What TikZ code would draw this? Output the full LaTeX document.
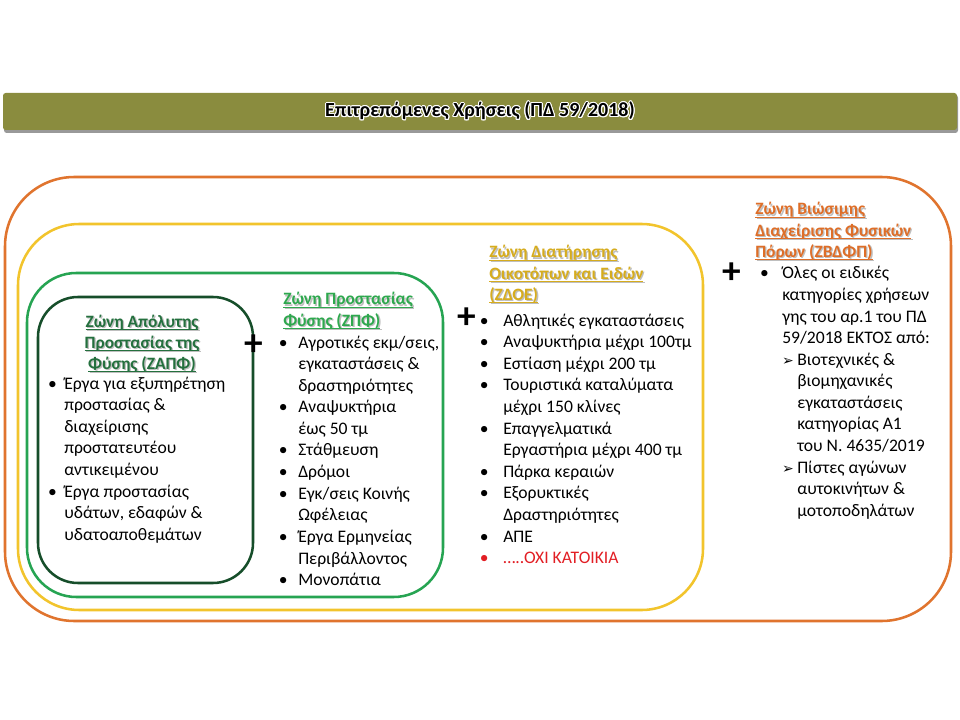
\documentclass[tikz,border=0pt]{standalone}
\usepackage{fontspec}
\setmainfont{Carlito}
\newfontfamily\djv{DejaVu Sans}
\usepackage{contour}
\contourlength{0.8pt}

\definecolor{barolive}{RGB}{138,140,62}
\definecolor{zorange}{RGB}{224,116,46}
\definecolor{zyellow}{RGB}{242,196,44}
\definecolor{zgreen}{RGB}{38,164,82}
\definecolor{zdark}{RGB}{22,78,42}
\definecolor{tdark}{RGB}{36,112,62}
\definecolor{tgreen}{RGB}{46,168,78}
\definecolor{tgold}{RGB}{214,172,30}
\definecolor{torange}{RGB}{222,110,40}
\definecolor{zred}{RGB}{226,30,36}

\newsavebox\ulbox
\newcommand\ulx[1]{\leavevmode\sbox\ulbox{#1}\rlap{\usebox\ulbox}\rule[-2pt]{\wd\ulbox}{0.85pt}}
\newcommand\shd[1]{\leavevmode\rlap{\hspace{1pt}\raisebox{-1pt}{\color{black!25}#1}}#1}
\newcommand\zt[1]{\shd{\ulx{#1}}}
\newcommand\bul[2]{\leavevmode\llap{\textbullet\hspace{#1}}#2}
\newcommand\arr[1]{\leavevmode\llap{{\djv\fontsize{10.5}{10.5}\selectfont ➢}\hspace{2.5pt}}#1}

\begin{document}
\begin{tikzpicture}[x=0.75pt,y=-0.75pt,
  zonebox/.style={line width=1.9pt},
  ztitle/.style={anchor=base west, inner sep=0pt, font=\fontsize{13}{15.9}\selectfont\bfseries},
  zitems/.style={anchor=base west, inner sep=0pt, font=\fontsize{13.2}{16.2}\selectfont},
  plus/.style={inner sep=0pt, font=\fontsize{28}{28}\selectfont\bfseries}]
\useasboundingbox (0,0) rectangle (960,720);
\fill[white] (0,0) rectangle (960,720);

% title bar
\fill[black!40, rounded corners=2pt] (4,95) rectangle (958,133);
\node[fill=barolive, rounded corners=2pt, minimum width=715.5pt, minimum height=27.75pt,
      inner sep=0pt, font=\fontsize{15}{15}\selectfont\bfseries] (bar) at (480,111.5)
      {\contour{white}{Επιτρεπόμενες Χρήσεις (ΠΔ 59/2018)}};

% nested zones
\draw[zonebox, zorange, rounded corners=52pt] (5,177) rectangle (951,621);
\draw[zonebox, zyellow, rounded corners=46pt] (18,224) rectangle (703,610);
\draw[zonebox, zgreen, rounded corners=37pt] (27,273) rectangle (443,597);
\draw[zonebox, zdark, rounded corners=30pt] (38,297) rectangle (253,583);

% column 1
\node[ztitle, anchor=base, text=tdark] (t1) at (142,327)
  {\parbox[t]{150pt}{\centering \zt{Ζώνη Απόλυτης}\\ \zt{Προστασίας της}\\ \zt{Φύσης (ΖΑΠΦ)}}};
\node[zitems] (c1) at (64,389)
  {\parbox[t]{150pt}{\raggedright
   \bul{5.5pt}{Έργα για εξυπηρέτηση}\\ προστασίας \&\\ διαχείρισης\\ προστατευτέου\\ αντικειμένου\\
   \bul{5.5pt}{Έργα προστασίας}\\ υδάτων, εδαφών \&\\ υδατοαποθεμάτων}};

% column 2
\node[ztitle, text=tgreen] (t2) at (283,305)
  {\parbox[t]{150pt}{\raggedright \zt{Ζώνη Προστασίας}\\ \zt{Φύσης (ΖΠΦ)}}};
\node[zitems] (c2) at (298,348)
  {\parbox[t]{150pt}{\raggedright
   \bul{8pt}{Αγροτικές εκμ/σεις,}\\ εγκαταστάσεις \&\\ δραστηριότητες\\
   \bul{8pt}{Αναψυκτήρια}\\ έως 50 τμ\\
   \bul{8pt}{Στάθμευση}\\
   \bul{8pt}{Δρόμοι}\\
   \bul{8pt}{Εγκ/σεις Κοινής}\\ Ωφέλειας\\
   \bul{8pt}{Έργα Ερμηνείας}\\ Περιβάλλοντος\\
   \bul{8pt}{Μονοπάτια}}};

% column 3
\node[ztitle, text=tgold] (t3) at (489,258)
  {\parbox[t]{180pt}{\raggedright \zt{Ζώνη Διατήρησης}\\ \zt{Οικοτόπων και Ειδών}\\ \zt{(ΖΔΟΕ)}}};
\node[zitems] (c3) at (503,326)
  {\parbox[t]{190pt}{\raggedright
   \bul{11pt}{Αθλητικές εγκαταστάσεις}\\
   \bul{11pt}{Αναψυκτήρια μέχρι 100τμ}\\
   \bul{11pt}{Εστίαση μέχρι 200 τμ}\\
   \bul{11pt}{Τουριστικά καταλύματα}\\ μέχρι 150 κλίνες\\
   \bul{11pt}{Επαγγελματικά}\\ Εργαστήρια μέχρι 400 τμ\\
   \bul{11pt}{Πάρκα κεραιών}\\
   \bul{11pt}{Εξορυκτικές}\\ Δραστηριότητες\\
   \bul{11pt}{ΑΠΕ}\\
   {\color{zred}\bul{11pt}{…..ΟΧΙ ΚΑΤΟΙΚΙΑ}}}};

% column 4
\node[ztitle, text=torange] (t4) at (755,215)
  {\parbox[t]{180pt}{\raggedright \zt{Ζώνη Βιώσιμης}\\ \zt{Διαχείρισης Φυσικών}\\ \zt{Πόρων (ΖΒΔΦΠ)}}};
\node[zitems] (c4) at (782,279)
  {\parbox[t]{160pt}{\raggedright
   \bul{10pt}{Όλες οι ειδικές}\\ κατηγορίες χρήσεων\\ γης του αρ.1 του ΠΔ\\ 59/2018 ΕΚΤΟΣ από:}};
\node[zitems] (c4s) at (797,365)
  {\parbox[t]{150pt}{\raggedright
   \arr{Βιοτεχνικές \&}\\ βιομηχανικές\\ εγκαταστάσεις\\ κατηγορίας Α1\\ του Ν. 4635/2019\\
   \arr{Πίστες αγώνων}\\ αυτοκινήτων \&\\ μοτοποδηλάτων}};

% plus signs
\node[plus] (p1) at (254,345) {+};
\node[plus] (p2) at (467,318) {+};
\node[plus] (p3) at (732,273) {+};
\end{tikzpicture}
\end{document}
